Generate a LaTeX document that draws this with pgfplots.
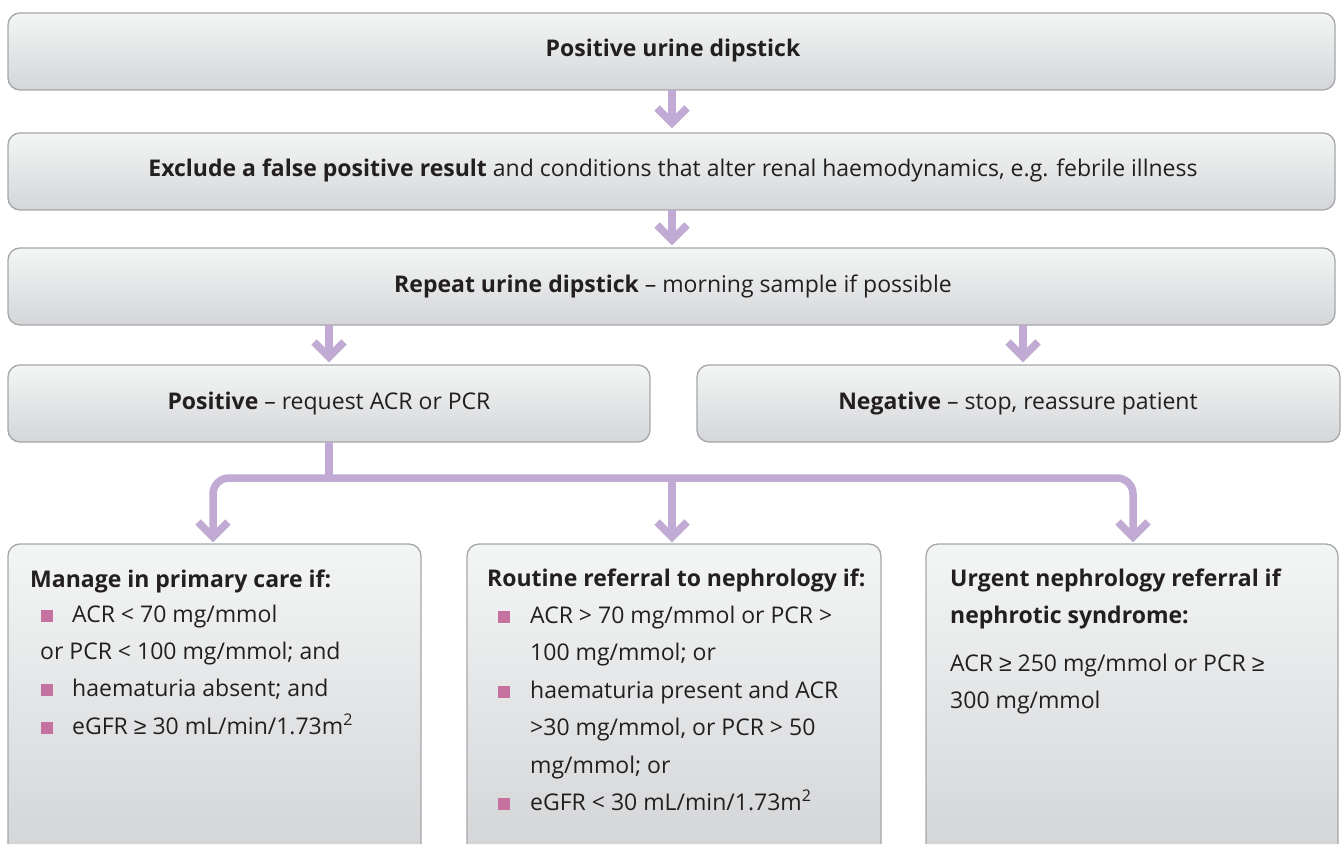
\documentclass[border=0pt]{standalone}
\usepackage{pgfplots}
\pgfplotsset{compat=1.18}
\usepackage{fontspec}
\setmainfont{Open Sans}
\newfontfamily\symf{Liberation Sans}
\newcommand{\gesym}{{\symf ≥}}
\definecolor{boxtop}{RGB}{244,245,245}
\definecolor{boxbot}{RGB}{213,214,216}
\definecolor{boxline}{RGB}{165,167,170}
\definecolor{arr}{RGB}{193,170,211}
\definecolor{bul}{RGB}{196,114,160}
\definecolor{txt}{RGB}{35,31,32}
\newcommand{\bx}{\textcolor{bul}{\rule[0.05em]{0.5em}{0.5em}}}
\tikzset{t/.style={font=\fontsize{23}{28}\selectfont,text=txt,inner sep=0pt,yshift=-4pt}}
\begin{document}
\begin{tikzpicture}
\begin{axis}[x=1pt,y=1pt,xmin=0,xmax=1343,ymin=0,ymax=844,y dir=reverse,
  hide axis,scale only axis,clip=false,
  arrw/.style={arr,line width=7.5pt,no markers},
  chev/.style={arr,line width=7.5pt,no markers,line join=miter,line cap=butt}]
\path (0,0) rectangle (1343,844);
% top full-width boxes
\shadedraw[top color=boxtop,bottom color=boxbot,draw=boxline,line width=1.3pt,rounded corners=12pt] (8,13) rectangle (1335,90);
\shadedraw[top color=boxtop,bottom color=boxbot,draw=boxline,line width=1.3pt,rounded corners=12pt] (8,133) rectangle (1335,210);
\shadedraw[top color=boxtop,bottom color=boxbot,draw=boxline,line width=1.3pt,rounded corners=12pt] (8,248) rectangle (1335,325);
\shadedraw[top color=boxtop,bottom color=boxbot,draw=boxline,line width=1.3pt,rounded corners=12pt] (8,365) rectangle (650,442);
\shadedraw[top color=boxtop,bottom color=boxbot,draw=boxline,line width=1.3pt,rounded corners=12pt] (697,365) rectangle (1340,442);
% bottom boxes (cut off)
\shadedraw[top color=boxtop,bottom color=boxbot,draw=boxline,line width=1.3pt,rounded corners=12pt] (8,844) -- (8,544) -- (421,544) -- (421,844);
\shadedraw[top color=boxtop,bottom color=boxbot,draw=boxline,line width=1.3pt,rounded corners=12pt] (467,844) -- (467,544) -- (881,544) -- (881,844);
\shadedraw[top color=boxtop,bottom color=boxbot,draw=boxline,line width=1.3pt,rounded corners=12pt] (926,844) -- (926,544) -- (1338,544) -- (1338,844);
% arrows
\addplot[arrw] coordinates {(672,90) (672,118)};
\addplot[chev] coordinates {(657,108) (672,123) (687,108)};
\addplot[arrw] coordinates {(672,210) (672,235)};
\addplot[chev] coordinates {(657,225) (672,240) (687,225)};
\addplot[arrw] coordinates {(329,325) (329,352)};
\addplot[chev] coordinates {(314,342) (329,357) (344,342)};
\addplot[arrw] coordinates {(1023,325) (1023,352)};
\addplot[chev] coordinates {(1008,342) (1023,357) (1038,342)};
\addplot[arrw] coordinates {(329,442) (329,478)};
\addplot[arrw,rounded corners=16pt] coordinates {(213,532) (213,478) (1133,478) (1133,532)};
\addplot[arrw] coordinates {(672,478) (672,532)};
\addplot[chev] coordinates {(198,522) (213,537) (228,522)};
\addplot[chev] coordinates {(657,522) (672,537) (687,522)};
\addplot[chev] coordinates {(1118,522) (1133,537) (1148,522)};
% texts
\node[t,anchor=mid] at (673,50) {\bfseries Positive urine dipstick};
\node[t,anchor=mid] at (673,170) {\textbf{Exclude a false positive result} and conditions that alter renal haemodynamics, e.g. febrile illness};
\node[t,anchor=mid] at (673,286) {\textbf{Repeat urine dipstick} – morning sample if possible};
\node[t,anchor=mid] at (329,403) {\textbf{Positive} – request ACR or PCR};
\node[t,anchor=mid] at (1018,403) {\textbf{Negative} – stop, reassure patient};
% box 6
\node[t,anchor=mid west] at (30,581) {\bfseries Manage in primary care if:};
\node[t,anchor=mid west] at (41,616) {\bx};
\node[t,anchor=mid west] at (72,616) {ACR < 70 mg/mmol};
\node[t,anchor=mid west] at (40,653) {or PCR < 100 mg/mmol; and};
\node[t,anchor=mid west] at (41,690) {\bx};
\node[t,anchor=mid west] at (72,690) {haematuria absent; and};
\node[t,anchor=mid west] at (41,728) {\bx};
\node[t,anchor=mid west] at (72,728) {eGFR \gesym{} 30 mL/min/1.73m\textsuperscript{2}};
% box 7
\node[t,anchor=mid west] at (487,580) {\bfseries Routine referral to nephrology if:};
\node[t,anchor=mid west] at (498,617) {\bx};
\node[t,anchor=mid west] at (530,617) {ACR > 70 mg/mmol or PCR >};
\node[t,anchor=mid west] at (530,654) {100 mg/mmol; or};
\node[t,anchor=mid west] at (498,692) {\bx};
\node[t,anchor=mid west] at (530,692) {haematuria present and ACR};
\node[t,anchor=mid west] at (530,729) {>30 mg/mmol, or PCR > 50};
\node[t,anchor=mid west] at (530,767) {mg/mmol; or};
\node[t,anchor=mid west] at (498,804) {\bx};
\node[t,anchor=mid west] at (530,804) {eGFR < 30 mL/min/1.73m\textsuperscript{2}};
% box 8
\node[t,anchor=mid west] at (950,580) {\bfseries Urgent nephrology referral if};
\node[t,anchor=mid west] at (950,617) {\bfseries nephrotic syndrome:};
\node[t,anchor=mid west] at (950,665) {ACR \gesym{} 250 mg/mmol or PCR \gesym};
\node[t,anchor=mid west] at (950,702) {300 mg/mmol};
\end{axis}
\end{tikzpicture}
\end{document}
